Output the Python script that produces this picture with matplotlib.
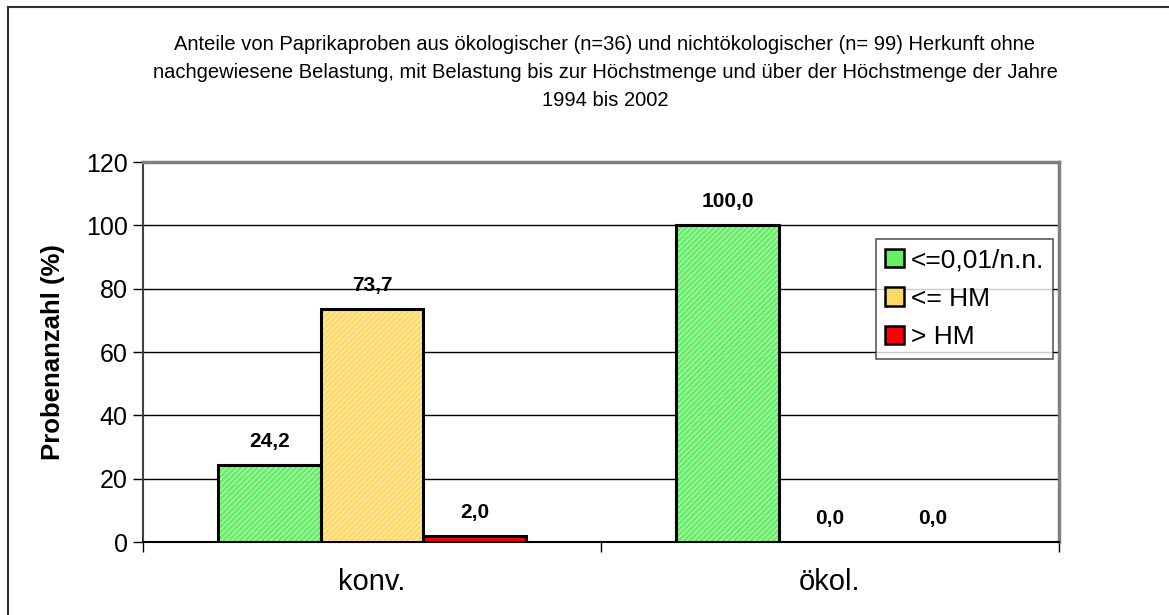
import matplotlib
matplotlib.use("Agg")
import matplotlib.pyplot as plt
from matplotlib.patches import Patch
from matplotlib.lines import Line2D
import numpy as np

plt.rcParams['font.family'] = ['Liberation Sans', 'DejaVu Sans']
plt.rcParams['hatch.linewidth'] = 0.6

categories = ["konv.", "ökol."]
series_names = ["<=0,01/n.n.", "<= HM", "> HM"]
values = {
    "<=0,01/n.n.": [24.2, 100.0],
    "<= HM": [73.7, 0.0],
    "> HM": [2.0, 0.0],
}
labels = {
    "<=0,01/n.n.": ["24,2", "100,0"],
    "<= HM": ["73,7", "0,0"],
    "> HM": ["2,0", "0,0"],
}
face_colors = {"<=0,01/n.n.": "#66F066", "<= HM": "#FFD966", "> HM": "#FF0000"}
hatch_colors = {"<=0,01/n.n.": "#D8FFD8", "<= HM": "#FFF6D8", "> HM": None}
yticks = [0, 20, 40, 60, 80, 100, 120]
title = ("Anteile von Paprikaproben aus ökologischer (n=36) und nichtökologischer (n= 99) Herkunft ohne\n"
         "nachgewiesene Belastung, mit Belastung bis zur Höchstmenge und über der Höchstmenge der Jahre\n"
         "1994 bis 2002")

W, H = 1169, 615
fig = plt.figure(figsize=(W / 100, H / 100), dpi=100)
fig.patch.set_facecolor("white")

# outer frame (left and top visible)
fig.add_artist(Line2D([8 / W, 8 / W], [0, 1 - 7 / H], transform=fig.transFigure, color="#303030", lw=1.5))
fig.add_artist(Line2D([8 / W, 1], [1 - 7 / H, 1 - 7 / H], transform=fig.transFigure, color="#303030", lw=1.5))

left, right, top, bottom = 143, 1059, 162, 542
ax = fig.add_axes([left / W, 1 - bottom / H, (right - left) / W, (bottom - top) / H])

x = np.arange(len(categories))
bw = 0.224
offsets = [-bw, 0, bw]
for name, off in zip(series_names, offsets):
    vals = values[name]
    hc = hatch_colors[name]
    if hc is not None:
        ax.bar(x + off, vals, bw, color=face_colors[name], edgecolor=hc, hatch="//////",
               linewidth=0, zorder=3)
    else:
        ax.bar(x + off, vals, bw, color=face_colors[name], linewidth=0, zorder=3)
    for xi, v in zip(x, vals):
        if v > 0:
            ax.bar(xi + off, v, bw, fill=False, edgecolor="black", linewidth=2.2, zorder=4)
    for xi, v, lab in zip(x, vals, labels[name]):
        ax.annotate(lab, (xi + off, v), xytext=(0, 10), textcoords="offset points",
                    ha="center", va="bottom", fontsize=15, fontweight="bold")

ax.set_xlim(-0.5, 1.5)
ax.set_ylim(0, 120)
ax.set_yticks(yticks)
ax.set_yticklabels([str(t) for t in yticks], fontsize=18)
ax.yaxis.grid(True, color="black", linewidth=1.0, zorder=0)
ax.set_axisbelow(True)
ax.tick_params(axis="y", length=7, width=1, direction="out", pad=4)

ax.set_xticks([-0.5, 0.5, 1.5])
ax.set_xticklabels(["", "", ""])
ax.set_xticks(x, minor=True)
ax.set_xticklabels(categories, minor=True, fontsize=21)
ax.tick_params(axis="x", which="major", length=7, width=1, direction="out")
ax.tick_params(axis="x", which="minor", length=0, pad=19)

ax.set_ylabel("Probenanzahl (%)", fontsize=18.5, fontweight="bold", labelpad=15)

for s in ["top", "right"]:
    ax.spines[s].set_color("#808080")
    ax.spines[s].set_linewidth(2.5)
ax.spines["left"].set_color("#404040")
ax.spines["left"].set_linewidth(1.5)
ax.spines["bottom"].set_color("black")
ax.spines["bottom"].set_linewidth(1.5)

handles = []
for name in series_names:
    handles.append(Patch(facecolor=face_colors[name], edgecolor="black", linewidth=1.8))
leg = fig.legend(handles, series_names, loc="upper left",
                 bbox_to_anchor=(876 / W, 1 - 239 / H), fontsize=19,
                 frameon=True, fancybox=False, handlelength=0.72, handleheight=0.72,
                 handletextpad=0.25, labelspacing=0.55, borderpad=0.35, borderaxespad=0)
leg.get_frame().set_edgecolor("#303030")
leg.get_frame().set_linewidth(1.2)

fig.text(605 / W, 1 - 35 / H, title, ha="center", va="top", fontsize=14.5,
         linespacing=1.6)

fig.savefig("out.png", dpi=100, facecolor="white")
